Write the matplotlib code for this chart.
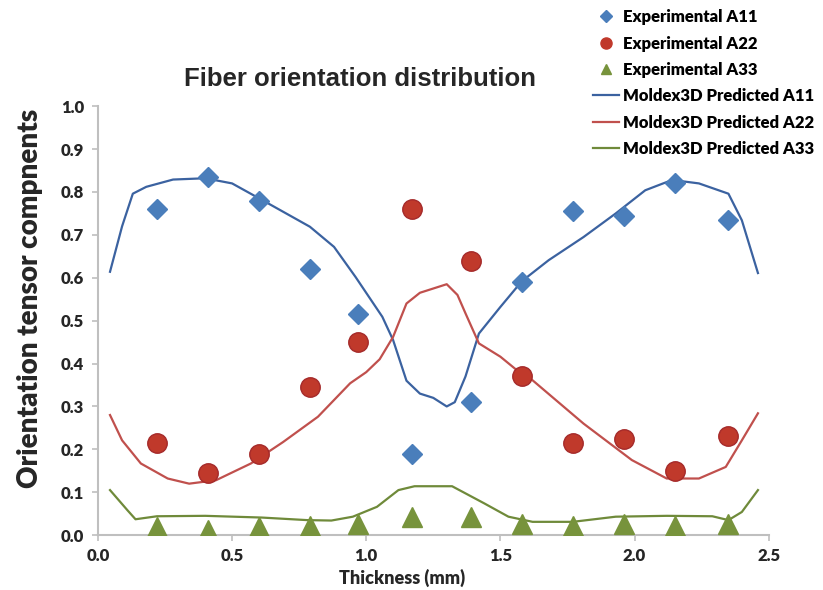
import matplotlib.pyplot as plt
from matplotlib.lines import Line2D

# data ---------------------------------------------------------------------------------

exp_x = [0.22, 0.41, 0.60, 0.79, 0.97, 1.17, 1.39, 1.58, 1.77, 1.96, 2.15, 2.35]
exp_a11 = [0.76, 0.835, 0.78, 0.62, 0.515, 0.19, 0.31, 0.59, 0.755, 0.745, 0.82, 0.735]
exp_a22 = [0.215, 0.145, 0.19, 0.345, 0.45, 0.76, 0.64, 0.37, 0.215, 0.225, 0.15, 0.23]
exp_a33 = [0.018, 0.012, 0.02, 0.022, 0.027, 0.043, 0.043, 0.027, 0.022, 0.026, 0.022, 0.026]

pred_a11_x = [0.045, 0.09, 0.13, 0.18, 0.28, 0.40, 0.50, 0.63, 0.79, 0.88, 0.96, 1.06,
              1.10, 1.15, 1.20, 1.25, 1.30, 1.33, 1.37, 1.42, 1.50, 1.58, 1.68, 1.81,
              1.93, 2.04, 2.14, 2.24, 2.35, 2.40, 2.46]
pred_a11 = [0.614, 0.72, 0.796, 0.812, 0.829, 0.832, 0.82, 0.775, 0.719, 0.672, 0.602, 0.509,
            0.455, 0.36, 0.33, 0.32, 0.30, 0.31, 0.37, 0.47, 0.532, 0.592, 0.641, 0.695,
            0.75, 0.804, 0.828, 0.82, 0.796, 0.734, 0.611]

pred_a22_x = [0.045, 0.09, 0.16, 0.26, 0.34, 0.44, 0.57, 0.69, 0.82, 0.94, 1.00, 1.05,
              1.10, 1.15, 1.20, 1.25, 1.30, 1.34, 1.37, 1.42, 1.50, 1.58, 1.62, 1.81,
              1.99, 2.12, 2.24, 2.34, 2.40, 2.46]
pred_a22 = [0.28, 0.221, 0.167, 0.132, 0.12, 0.128, 0.167, 0.217, 0.276, 0.354, 0.38, 0.41,
            0.462, 0.54, 0.565, 0.575, 0.585, 0.56, 0.517, 0.447, 0.416, 0.375, 0.361, 0.26,
            0.175, 0.132, 0.132, 0.159, 0.221, 0.284]

pred_a33_x = [0.045, 0.11, 0.14, 0.22, 0.40, 0.61, 0.78, 0.87, 0.95, 1.04, 1.12, 1.18,
              1.25, 1.32, 1.44, 1.53, 1.62, 1.77, 1.93, 2.12, 2.29, 2.35, 2.40, 2.46]
pred_a33 = [0.105, 0.058, 0.037, 0.044, 0.045, 0.041, 0.035, 0.034, 0.043, 0.066, 0.105, 0.114,
            0.114, 0.114, 0.074, 0.043, 0.031, 0.031, 0.043, 0.045, 0.044, 0.035, 0.054, 0.105]

labels = ["Experimental A11", "Experimental A22", "Experimental A33",
          "Moldex3D Predicted A11", "Moldex3D Predicted A22", "Moldex3D Predicted A33"]

# plot ---------------------------------------------------------------------------------

c_blue = "#4a7ebb"
c_red = "#c0392b"
c_green = "#77933c"
c_blue_line = "#3b62a0"
c_red_line = "#c0504d"
c_green_line = "#6f8a3a"
gray = "#bfbfbf"
txt = "#262626"
body_font = "Lato"
heavy = "heavy"

fig = plt.figure(figsize=(8.23, 5.90), dpi=100)
ax = fig.add_axes([0.119, 0.093, 0.815, 0.727])

ax.plot(pred_a11_x, pred_a11, color=c_blue_line, lw=1.6, zorder=2)
ax.plot(pred_a22_x, pred_a22, color=c_red_line, lw=1.6, zorder=2)
ax.plot(pred_a33_x, pred_a33, color=c_green_line, lw=1.6, zorder=2)

ax.plot(exp_x, exp_a11, "D", color=c_blue, ms=10, mec=c_blue, zorder=3)
ax.plot(exp_x, exp_a22, "o", color=c_red, ms=14, mec="#a52a2a", zorder=3)
ax.plot(exp_x, exp_a33, "^", color=c_green, ms=15, mec=c_green, zorder=3)

ax.set_xlim(0, 2.5)
ax.set_ylim(0, 1.0)
ax.set_xticks([0.0, 0.5, 1.0, 1.5, 2.0, 2.5])
ax.set_yticks([i / 10 for i in range(11)])
ax.set_xticklabels(["0.0", "0.5", "1.0", "1.5", "2.0", "2.5"])
ax.set_yticklabels(["%.1f" % (i / 10) for i in range(11)])
for s in ["top", "right"]:
    ax.spines[s].set_visible(False)
for s in ["left", "bottom"]:
    ax.spines[s].set_color(gray)
    ax.spines[s].set_linewidth(1.5)
ax.tick_params(colors=gray, length=4, width=1.2, labelcolor=txt, labelsize=12)
for lab in ax.get_xticklabels() + ax.get_yticklabels():
    lab.set_fontweight(heavy)
    lab.set_family(body_font)
ax.tick_params(axis="x", pad=5)
ax.tick_params(axis="y", pad=6)

fig.text(0.437, 0.866, "Fiber orientation distribution", ha="center", va="center",
         fontsize=18.5, fontweight="bold", color=txt, family="Liberation Sans")
fig.text(0.036, 0.495, "Orientation tensor compnents", ha="center", va="center",
         rotation=90, fontsize=20, fontweight=heavy, color=txt, family=body_font)
fig.text(0.488, 0.02, "Thickness (mm)", ha="center", va="center",
         fontsize=13, fontweight=heavy, color=txt, family=body_font)

handles = [
    Line2D([], [], ls="none", marker="D", color=c_blue, ms=6),
    Line2D([], [], ls="none", marker="o", color=c_red, ms=8),
    Line2D([], [], ls="none", marker="^", color=c_green, ms=7),
    Line2D([], [], color=c_blue_line, lw=1.6),
    Line2D([], [], color=c_red_line, lw=1.6),
    Line2D([], [], color=c_green_line, lw=1.6),
]
fig.legend(handles, labels, loc="upper right", bbox_to_anchor=(1.0, 1.0), frameon=False,
           prop={"weight": heavy, "size": 12, "family": body_font}, handlelength=1.6,
           handletextpad=0.2, labelspacing=0.62, borderaxespad=0.15)

fig.savefig("out.png", dpi=100)
